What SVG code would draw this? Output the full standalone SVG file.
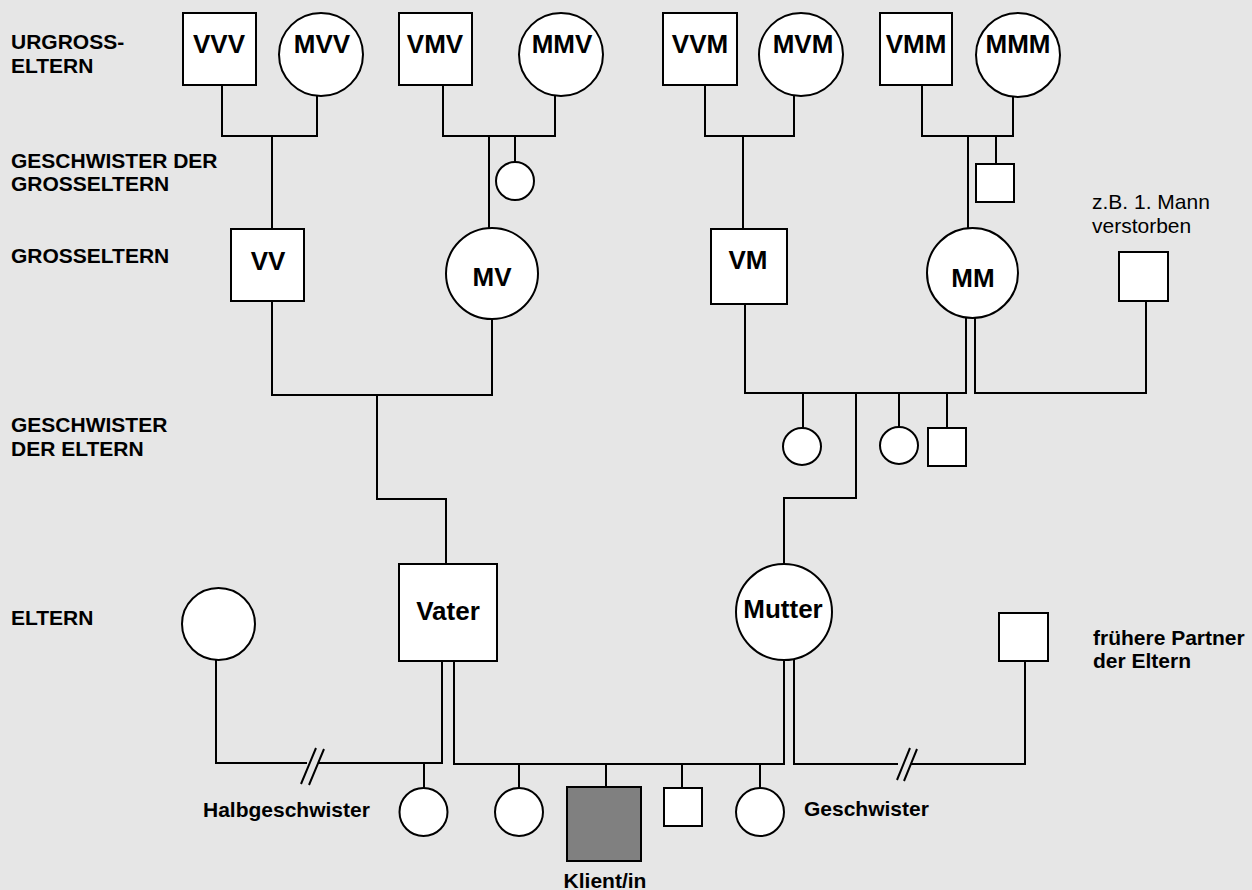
<svg xmlns="http://www.w3.org/2000/svg" width="1252" height="890" viewBox="0 0 1252 890">
<style>
.bg{fill:#e6e6e6}
.n{fill:#ffffff;stroke:#000;stroke-width:2}
.c{fill:#808080;stroke:#000;stroke-width:2}
.l{fill:none;stroke:#000;stroke-width:2}
.lbl{font-family:"Liberation Sans",Arial,sans-serif;font-weight:bold;font-size:21px;fill:#000}
.nt{font-family:"Liberation Sans",Arial,sans-serif;font-weight:bold;font-size:26px;fill:#000;text-anchor:middle}
.rg{font-family:"Liberation Sans",Arial,sans-serif;font-size:21px;fill:#000}
</style>
<rect class="bg" x="0" y="0" width="1252" height="890"/>
<g id="labels">
<text class="lbl" x="11" y="49">URGROSS-</text>
<text class="lbl" x="11" y="73">ELTERN</text>
<text class="lbl" x="11" y="168">GESCHWISTER DER</text>
<text class="lbl" x="11" y="191">GROSSELTERN</text>
<text class="lbl" x="11" y="263">GROSSELTERN</text>
<text class="lbl" x="11" y="432">GESCHWISTER</text>
<text class="lbl" x="11" y="456">DER ELTERN</text>
<text class="lbl" x="11" y="625">ELTERN</text>
<text class="rg" x="1092" y="209">z.B. 1. Mann</text>
<text class="rg" x="1092" y="233">verstorben</text>
<text class="lbl" x="1093" y="645">frühere Partner</text>
<text class="lbl" x="1093" y="668">der Eltern</text>
<text class="lbl" x="203" y="817">Halbgeschwister</text>
<text class="lbl" x="804" y="816">Geschwister</text>
<text class="lbl" x="605" y="888" text-anchor="middle">Klient/in</text>
</g>
<g id="connectors">
<path class="l" d="M222,85 V136 H317 V96 M272,136 V229"/>
<path class="l" d="M443,85 V136 H555 V96 M489,136 V228 M515,136 V162"/>
<path class="l" d="M705,85 V136 H794 V96 M743,136 V229"/>
<path class="l" d="M922,85 V136 H1013 V97 M968,136 V228 M996,136 V164"/>
<path class="l" d="M272,301 V395 H492 V319 M377,395 V499 H446 V564"/>
<path class="l" d="M745,304 V393 H966 V318 M803,393 V428 M899,393 V427 M947,393 V428 M856,393 V498 H784 V564"/>
<path class="l" d="M975,318 V393 H1146 V301"/>
<path class="l" d="M216,660 V763 H307 M318,763 H442 V661 M424,763 V788"/>
<path class="l" d="M301,784 L316,748 M309,785 L324,749"/>
<path class="l" d="M454,661 V764 H784 V660 M519,764 V788 M606,764 V787 M682,764 V788 M760,764 V788"/>
<path class="l" d="M794,660 V764 H898 M911,764 H1025 V661"/>
<path class="l" d="M897,780 L910,748 M904,781 L917,749"/>
</g>
<g id="VVV"><rect class="n" x="183" y="13" width="73" height="72"/><text class="nt" x="219" y="53">VVV</text></g>
<g id="MVV"><ellipse class="n" cx="321" cy="54.5" rx="42" ry="41.5"/><text class="nt" x="322" y="53">MVV</text></g>
<g id="VMV"><rect class="n" x="399" y="13" width="73" height="72"/><text class="nt" x="435" y="53">VMV</text></g>
<g id="MMV"><ellipse class="n" cx="561" cy="54.5" rx="42" ry="41.5"/><text class="nt" x="562" y="53">MMV</text></g>
<g id="VVM"><rect class="n" x="663" y="13" width="74" height="72"/><text class="nt" x="700" y="53">VVM</text></g>
<g id="MVM"><ellipse class="n" cx="801" cy="54.5" rx="42" ry="41.5"/><text class="nt" x="803" y="53">MVM</text></g>
<g id="VMM"><rect class="n" x="880" y="13" width="72" height="72"/><text class="nt" x="916" y="53">VMM</text></g>
<g id="MMM"><ellipse class="n" cx="1018" cy="55" rx="42" ry="42"/><text class="nt" x="1018" y="53">MMM</text></g>
<g id="sibMV"><circle class="n" cx="515" cy="181" r="19"/></g>
<g id="sibMM"><rect class="n" x="976" y="164" width="38" height="38"/></g>
<g id="VV"><rect class="n" x="231" y="229" width="73" height="72"/><text class="nt" x="268" y="270">VV</text></g>
<g id="MV"><ellipse class="n" cx="492" cy="273.5" rx="46" ry="45.5"/><text class="nt" x="492" y="286">MV</text></g>
<g id="VM"><rect class="n" x="711" y="229" width="76" height="75"/><text class="nt" x="748" y="269">VM</text></g>
<g id="MM"><ellipse class="n" cx="972.5" cy="273" rx="45.5" ry="45"/><text class="nt" x="973" y="287">MM</text></g>
<g id="firstHusband"><rect class="n" x="1119" y="252" width="49" height="49"/></g>
<g id="aunt1"><ellipse class="n" cx="802" cy="446.5" rx="19" ry="18.5"/></g>
<g id="aunt2"><ellipse class="n" cx="899" cy="445.5" rx="19" ry="18.5"/></g>
<g id="uncle"><rect class="n" x="928" y="428" width="38" height="38"/></g>
<g id="exVater"><ellipse class="n" cx="218.5" cy="624" rx="36.5" ry="36"/></g>
<g id="Vater"><rect class="n" x="399" y="564" width="98" height="97"/><text class="nt" x="448" y="620">Vater</text></g>
<g id="Mutter"><circle class="n" cx="784" cy="612" r="48"/><text class="nt" x="783" y="618">Mutter</text></g>
<g id="exMutter"><rect class="n" x="999" y="613" width="49" height="48"/></g>
<g id="halfSib"><circle class="n" cx="423.5" cy="812" r="24"/></g>
<g id="sib1"><circle class="n" cx="519" cy="812" r="24"/></g>
<g id="client"><rect class="c" x="567" y="787" width="74" height="74"/></g>
<g id="sib2"><rect class="n" x="664" y="788" width="38" height="38"/></g>
<g id="sib3"><circle class="n" cx="760" cy="812" r="24"/></g>
</svg>
